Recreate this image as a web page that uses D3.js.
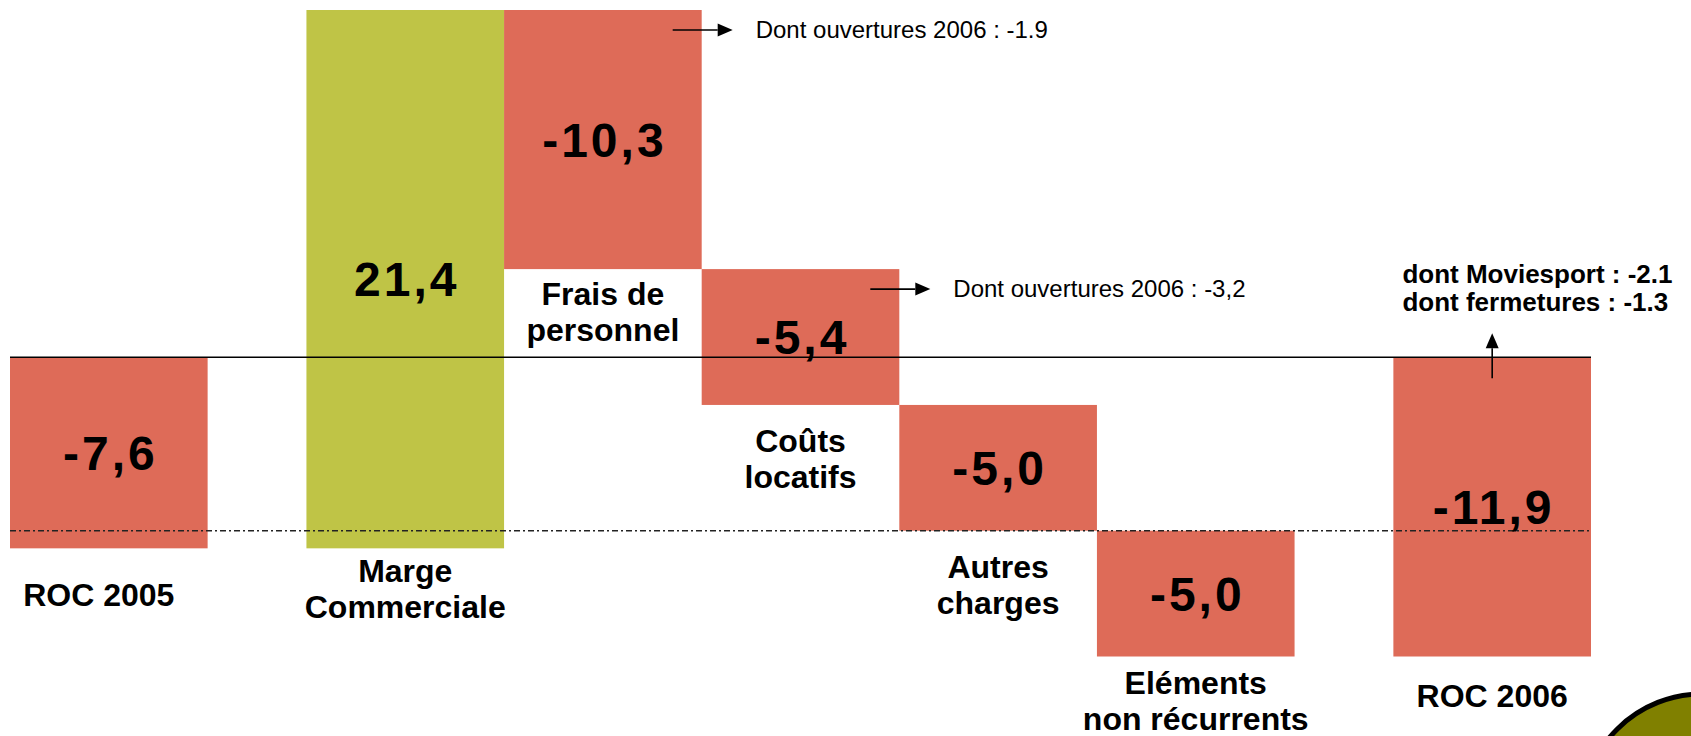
<!DOCTYPE html>
<html>
<head>
<meta charset="utf-8">
<script src="https://cdn.jsdelivr.net/npm/d3@7"></script>
<style>
  body { margin: 0; background: #fff; }
  svg { display: block; font-family: 'Liberation Sans', Arial, sans-serif; }
</style>
</head>
<body>
<div id="vis"></div>
<script>
// waterfall ROC 2005 -> ROC 2006 (M EUR)
const categories = [
  ['ROC 2005'],
  ['Marge', 'Commerciale'],
  ['Frais de', 'personnel'],
  ['Coûts', 'locatifs'],
  ['Autres', 'charges'],
  ['Eléments', 'non récurrents'],
  ['ROC 2006']
];
const values = [-7.6, 21.4, -10.3, -5.4, -5.0, -5.0, -11.9];
const valueLabels = ['-7,6', '21,4', '-10,3', '-5,4', '-5,0', '-5,0', '-11,9'];
const isTotal = [true, false, false, false, false, false, true];
const refValue = -6.9; // dash-dot line level

// side notes
const noteBars = [2, 3];
const noteTexts = ['Dont ouvertures 2006 : -1.9', 'Dont ouvertures 2006 : -3,2'];
const totalNoteLines = ['dont Moviesport : -2.1', 'dont fermetures : -1.3'];

const width = 1691;
const height = 736;
const RED = '#de6b58';
const GREEN = '#bfc446';

// label tweaks (gap below the bar to first baseline, horizontal nudge)
const labelGap = [58, 34, 36, 47, 47, 37, 50];
const labelDx = [-10, 0, 0, 0, 0, 0, 0];

// build the running totals
let running = 0;
const bars = values.map((v, i) => {
  let start, end;
  if (isTotal[i]) {
    start = 0;
    end = v;
    running = v;
  } else {
    start = running;
    end = running + v;
    running = end;
  }
  // totals are set apart from the steps
  const slot = i + (i > 0 ? 0.5 : 0) + (i === values.length - 1 ? 0.5 : 0);
  return { i, v, start, end, slot, lines: categories[i], label: valueLabels[i], total: isTotal[i] };
});

const svg = d3.select('#vis').append('svg')
  .attr('width', width)
  .attr('height', height);

const x = d3.scaleLinear()
  .domain([0, 8])
  .range([10, 1591]);
const bw = x(1) - x(0);

const y = d3.scaleLinear()
  .domain([d3.min(bars, d => Math.min(d.start, d.end)), d3.max(bars, d => Math.max(d.start, d.end))])
  .range([656.5, 10]);

// corner badge, mostly off page
svg.append('circle')
  .attr('cx', 1702)
  .attr('cy', 814)
  .attr('r', 120)
  .attr('fill', '#808000')
  .attr('stroke', '#000')
  .attr('stroke-width', 5);

svg.append('g').selectAll('rect')
  .data(bars)
  .join('rect')
  .attr('x', d => x(d.slot))
  .attr('y', d => y(Math.max(d.start, d.end)))
  .attr('width', bw)
  .attr('height', d => Math.abs(y(d.start) - y(d.end)))
  .attr('fill', d => d.v > 0 ? GREEN : RED);

// zero line
svg.append('line')
  .attr('x1', x(0)).attr('x2', x(8))
  .attr('y1', y(0)).attr('y2', y(0))
  .attr('stroke', '#000')
  .attr('stroke-width', 1.5);

svg.append('line')
  .attr('x1', x(0)).attr('x2', x(8))
  .attr('y1', y(refValue)).attr('y2', y(refValue))
  .attr('stroke', '#222')
  .attr('stroke-width', 1.6)
  .attr('stroke-dasharray', '6,3,2,3');

// values in the middle of each bar
svg.append('g').selectAll('text')
  .data(bars)
  .join('text')
  .attr('x', d => x(d.slot) + bw / 2 + 1.5)
  .attr('y', d => (y(d.start) + y(d.end)) / 2 + 17)
  .attr('text-anchor', 'middle')
  .attr('font-size', 48)
  .attr('font-weight', 'bold')
  .attr('letter-spacing', 3)
  .attr('fill', '#000')
  .text(d => d.label);

// category names under the bars
const cat = svg.append('g').selectAll('text')
  .data(bars)
  .join('text')
  .attr('x', d => x(d.slot) + bw / 2 + labelDx[d.i])
  .attr('y', d => y(Math.min(d.start, d.end)) + labelGap[d.i])
  .attr('text-anchor', 'middle')
  .attr('font-size', 32)
  .attr('font-weight', 'bold')
  .attr('fill', '#000');

cat.selectAll('tspan')
  .data(d => d.lines.map(l => ({ l, x: x(d.slot) + bw / 2 + labelDx[d.i] })))
  .join('tspan')
  .attr('x', t => t.x)
  .attr('dy', (t, j) => j === 0 ? 0 : 36)
  .text(t => t.l);

// arrow = line + filled head
function arrow(x1, y1, x2, y2) {
  const ang = Math.atan2(y2 - y1, x2 - x1);
  const len = 15;
  const half = 6.5;
  const bx = x2 - len * Math.cos(ang);
  const by = y2 - len * Math.sin(ang);
  svg.append('line')
    .attr('x1', x1).attr('y1', y1)
    .attr('x2', bx).attr('y2', by)
    .attr('stroke', '#000')
    .attr('stroke-width', 1.6);
  svg.append('path')
    .attr('d', d3.line()([
      [x2, y2],
      [bx - half * Math.sin(ang), by + half * Math.cos(ang)],
      [bx + half * Math.sin(ang), by - half * Math.cos(ang)]
    ]) + 'Z')
    .attr('fill', '#000');
}

noteBars.forEach((b, k) => {
  const d = bars[b];
  const right = x(d.slot) + bw;
  const ay = y(d.start) + 20;
  arrow(right - 29, ay, right + 31, ay);
  svg.append('text')
    .attr('x', right + 54)
    .attr('y', ay + 8)
    .attr('font-size', 24)
    .attr('fill', '#000')
    .text(noteTexts[k]);
});

// note above ROC 2006
const last = bars[bars.length - 1];
const cx = x(last.slot) + bw / 2;
arrow(cx, y(0) + 21, cx, y(0) - 24);

svg.append('g').selectAll('text')
  .data(totalNoteLines)
  .join('text')
  .attr('x', x(last.slot) + 9)
  .attr('y', (d, j) => 283 + j * 28)
  .attr('font-size', 26)
  .attr('font-weight', 'bold')
  .attr('fill', '#000')
  .text(d => d);
</script>
</body>
</html>
